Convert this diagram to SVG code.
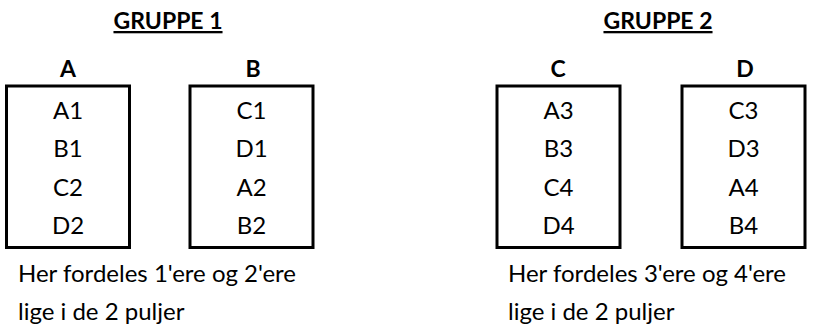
<svg xmlns="http://www.w3.org/2000/svg" width="826" height="329" viewBox="0 0 826 329">
<style>
.t{font-family:Lato,"Open Sans","Liberation Sans",sans-serif;font-size:24px;fill:#000;text-anchor:middle}
.h{font-weight:bold;font-size:23px}
.u{text-decoration:underline}
.n{text-anchor:start}
.box{fill:#fff;stroke:#000;stroke-width:3}
</style>
<rect width="826" height="329" fill="#fff"/>
<g id="group1">
<text class="t h u" x="168" y="29">GRUPPE 1</text>
<g id="poolA">
<text class="t h" x="68" y="77">A</text>
<rect class="box" x="6.5" y="86" width="123" height="161.5"/>
<text class="t" x="68" y="118.5">A1</text>
<text class="t" x="68" y="157">B1</text>
<text class="t" x="68" y="195.5">C2</text>
<text class="t" x="68" y="234">D2</text>
</g>
<g id="poolB">
<text class="t h" x="253" y="77">B</text>
<rect class="box" x="190" y="86" width="123" height="161.5"/>
<text class="t" x="251.5" y="118.5">C1</text>
<text class="t" x="251.5" y="157">D1</text>
<text class="t" x="251.5" y="195.5">A2</text>
<text class="t" x="251.5" y="234">B2</text>
</g>
<text class="t n" x="18" y="282">Her fordeles 1'ere og 2'ere</text>
<text class="t n" x="18" y="320">lige i de 2 puljer</text>
</g>
<g id="group2">
<text class="t h u" x="658" y="29">GRUPPE 2</text>
<g id="poolC">
<text class="t h" x="558" y="77">C</text>
<rect class="box" x="497" y="86" width="123" height="161.5"/>
<text class="t" x="558.5" y="118.5">A3</text>
<text class="t" x="558.5" y="157">B3</text>
<text class="t" x="558.5" y="195.5">C4</text>
<text class="t" x="558.5" y="234">D4</text>
</g>
<g id="poolD">
<text class="t h" x="745" y="77">D</text>
<rect class="box" x="682" y="86" width="123" height="161.5"/>
<text class="t" x="743.5" y="118.5">C3</text>
<text class="t" x="743.5" y="157">D3</text>
<text class="t" x="743.5" y="195.5">A4</text>
<text class="t" x="743.5" y="234">B4</text>
</g>
<text class="t n" x="508" y="282">Her fordeles 3'ere og 4'ere</text>
<text class="t n" x="508" y="320">lige i de 2 puljer</text>
</g>
<g id="connectors"></g>
</svg>
